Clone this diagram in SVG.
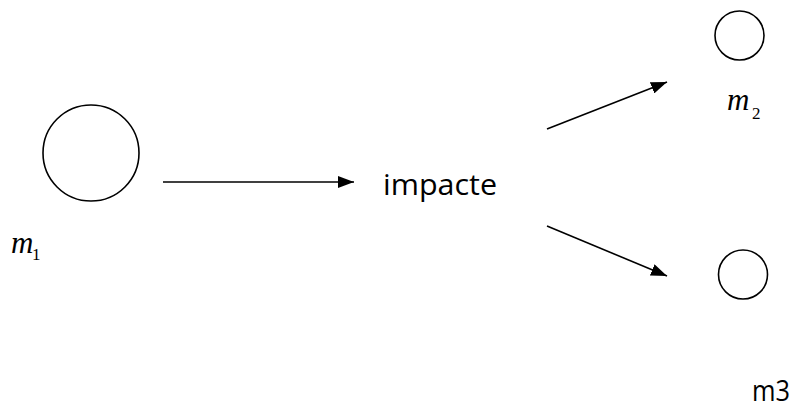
<svg xmlns="http://www.w3.org/2000/svg" width="793" height="405" viewBox="0 0 793 405">
<style>
.ball{fill:none;stroke:#000;stroke-width:1.6}
.conn{stroke:#000;stroke-width:1.6;fill:none}
.m{font-family:"Liberation Serif",serif;font-style:italic;font-size:31px;fill:#000}
.sub{font-family:"Liberation Serif",serif;font-size:17px;fill:#000}
.lbl{font-family:"Open Sans","Liberation Sans",sans-serif;font-size:30px;fill:#000}
</style>
<defs>
<marker id="ah" viewBox="0 0 16 12" refX="16" refY="6" markerWidth="16" markerHeight="12" markerUnits="userSpaceOnUse" orient="auto">
<path d="M0,0 L16,6 L0,12 Z" fill="#000"/>
</marker>
</defs>
<rect width="793" height="405" fill="#fff"/>
<g id="m1">
<circle class="ball" cx="91" cy="153" r="48"/>
<text x="11" y="253" class="m">m</text><text x="32" y="260" class="sub">1</text>
</g>
<g id="m2">
<circle class="ball" cx="739.5" cy="35.5" r="24.5"/>
<text x="727" y="110" class="m">m</text><text x="752" y="119" class="sub">2</text>
</g>
<g id="m3">
<circle class="ball" cx="743" cy="274.5" r="24.5"/>
<text x="752" y="401" class="lbl" textLength="38" lengthAdjust="spacingAndGlyphs">m3</text>
</g>
<g id="impacte">
<text x="383" y="195" class="lbl" textLength="114" lengthAdjust="spacingAndGlyphs">impacte</text>
</g>
<g id="connectors">
<line class="conn" x1="163" y1="182" x2="354" y2="182" marker-end="url(#ah)"/>
<line class="conn" x1="547" y1="129" x2="667" y2="82" marker-end="url(#ah)"/>
<line class="conn" x1="547" y1="226" x2="667" y2="276" marker-end="url(#ah)"/>
</g>
</svg>
